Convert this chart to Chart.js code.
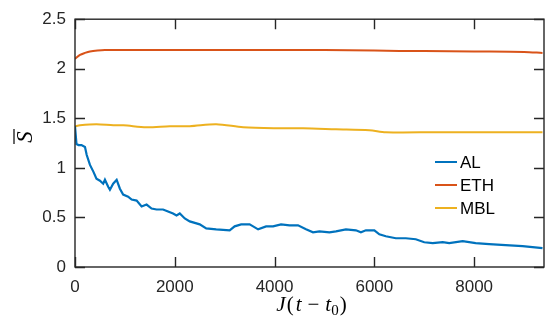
<!DOCTYPE html>
<html>
<head>
<meta charset="utf-8">
<script src="https://cdn.jsdelivr.net/npm/chart.js@4.4.1/dist/chart.umd.min.js"></script>
<style>
  html, body { margin: 0; padding: 0; background: #fff; }
  #wrap { width: 546px; height: 320px; position: relative; }
</style>
</head>
<body>
<div id="wrap"><canvas id="c"></canvas></div>
<script>
// values
const alTime = [0, 30, 70, 130, 200, 235, 300, 370, 430, 500, 565, 600, 665, 700, 765, 835, 900, 965, 1065, 1135, 1235, 1335, 1435, 1535, 1635, 1765, 1865, 1965, 2035, 2100, 2200, 2300, 2500, 2630, 2830, 3100, 3200, 3330, 3500, 3570, 3670, 3830, 3970, 4130, 4300, 4470, 4630, 4770, 4900, 5100, 5230, 5430, 5630, 5730, 5830, 6000, 6100, 6230, 6430, 6630, 6830, 7000, 7170, 7370, 7500, 7770, 8030, 8300, 8630, 8970, 9370]
const alValues = [1.42, 1.24, 1.23, 1.23, 1.21, 1.13, 1.03, 0.96, 0.89, 0.87, 0.84, 0.88, 0.81, 0.78, 0.84, 0.88, 0.79, 0.73, 0.71, 0.68, 0.67, 0.61, 0.63, 0.59, 0.58, 0.58, 0.56, 0.54, 0.52, 0.54, 0.49, 0.46, 0.43, 0.39, 0.38, 0.37, 0.41, 0.43, 0.43, 0.41, 0.38, 0.41, 0.41, 0.43, 0.42, 0.42, 0.38, 0.35, 0.36, 0.35, 0.36, 0.38, 0.37, 0.35, 0.37, 0.37, 0.33, 0.31, 0.29, 0.29, 0.28, 0.25, 0.24, 0.25, 0.24, 0.26, 0.24, 0.23, 0.22, 0.21, 0.19]

const ethTime = [0, 100, 200, 300, 450, 600, 1000, 2000, 3000, 4000, 5000, 6000, 6500, 7000, 8000, 9000, 9370]
const ethValues = [2.10, 2.14, 2.16, 2.175, 2.185, 2.19, 2.19, 2.19, 2.19, 2.19, 2.19, 2.185, 2.18, 2.18, 2.175, 2.17, 2.16]

const mblTime = [0, 100, 430, 770, 970, 1430, 1900, 2300, 2830, 3370, 4030, 4570, 5230, 5900, 6230, 7230, 9370]
const mblValues = [1.42, 1.43, 1.44, 1.43, 1.43, 1.41, 1.42, 1.42, 1.44, 1.41, 1.40, 1.40, 1.39, 1.38, 1.36, 1.36, 1.36]

const seriesNames = ['AL', 'ETH', 'MBL']
const seriesColors = ['#0072BD', '#D95319', '#EDB120']
const xTicks = [0, 2000, 4000, 6000, 8000]
const yTicks = [0, 0.5, 1, 1.5, 2, 2.5]

const axisColor = '#262626'
const sansFont = '"Liberation Sans", Arial, sans-serif'
const serifFont = '"Liberation Serif", "DejaVu Serif", serif'

const toPoints = (ts, vs) => ts.map((t, i) => ({ x: t, y: vs[i] }))

// box, inward ticks, legend and axis titles, matlab style
const matlabAxes = {
  id: 'matlabAxes',
  afterDatasetsDraw(chart) {
    const { ctx, chartArea: a, scales: { x, y } } = chart
    ctx.save()
    ctx.strokeStyle = axisColor
    ctx.lineWidth = 1.4
    ctx.strokeRect(a.left, a.top, a.right - a.left, a.bottom - a.top)
    ctx.beginPath()
    xTicks.forEach(v => {
      const px = Math.round(x.getPixelForValue(v)) + 0.5
      ctx.moveTo(px, a.bottom); ctx.lineTo(px, a.bottom - 10)
      ctx.moveTo(px, a.top); ctx.lineTo(px, a.top + 10)
    })
    yTicks.forEach(v => {
      const py = Math.round(y.getPixelForValue(v)) + 0.5
      ctx.moveTo(a.left, py); ctx.lineTo(a.left + 10, py)
      ctx.moveTo(a.right, py); ctx.lineTo(a.right - 10, py)
    })
    ctx.stroke()

    // legend
    ctx.font = '17px ' + sansFont
    ctx.textBaseline = 'middle'
    ctx.fillStyle = '#000'
    chart.data.datasets.forEach((ds, i) => {
      const ly = 162 + i * 23
      ctx.strokeStyle = ds.borderColor
      ctx.lineWidth = 2
      ctx.beginPath()
      ctx.moveTo(435, ly); ctx.lineTo(457, ly)
      ctx.stroke()
      ctx.fillText(ds.label, 460, ly + 1)
    })

    // y title: S with overbar, rotated
    ctx.save()
    ctx.translate(32, 137)
    ctx.rotate(-Math.PI / 2)
    ctx.font = 'italic 23px ' + serifFont
    ctx.textAlign = 'center'
    ctx.textBaseline = 'alphabetic'
    ctx.fillText('S', 0, 0)
    ctx.strokeStyle = '#000'
    ctx.lineWidth = 1.2
    ctx.beginPath()
    ctx.moveTo(-7, -18); ctx.lineTo(8, -18)
    ctx.stroke()
    ctx.restore()

    // x title: J(t - t0)
    const parts = [
      ['J', 'italic 21px', 0, 1],
      ['(', '21px', 0, 2],
      ['t', 'italic 21px', 0, 6],
      ['\u2212', '21px', 0, 6],
      ['t', 'italic 21px', 0, 0],
      ['0', '15px', 4, 1],
      [')', '21px', 0, 0]
    ]
    let total = 0
    parts.forEach(p => { ctx.font = p[1] + ' ' + serifFont; total += ctx.measureText(p[0]).width + p[3] })
    let cx = (a.left + a.right) / 2 - total / 2 + 2
    ctx.textAlign = 'left'
    ctx.textBaseline = 'alphabetic'
    parts.forEach(p => {
      ctx.font = p[1] + ' ' + serifFont
      ctx.fillText(p[0], cx, 311 + p[2])
      cx += ctx.measureText(p[0]).width + p[3]
    })
    ctx.restore()
  }
}

new Chart(document.getElementById('c'), {
  type: 'line',
  data: {
    datasets: [
      { label: seriesNames[0], data: toPoints(alTime, alValues), borderColor: seriesColors[0], borderWidth: 2.2, pointRadius: 0, tension: 0 },
      { label: seriesNames[1], data: toPoints(ethTime, ethValues), borderColor: seriesColors[1], borderWidth: 2, pointRadius: 0, tension: 0.3 },
      { label: seriesNames[2], data: toPoints(mblTime, mblValues), borderColor: seriesColors[2], borderWidth: 2, pointRadius: 0, tension: 0.3 }
    ]
  },
  options: {
    responsive: true,
    maintainAspectRatio: false,
    animation: false,
    layout: { padding: { top: 16, right: 2, left: 0, bottom: 0 } },
    plugins: { legend: { display: false }, tooltip: { enabled: false } },
    scales: {
      x: {
        type: 'linear',
        min: 0,
        max: 9400,
        grid: { display: false, drawTicks: false },
        border: { display: false },
        afterFit: s => { s.height = 53 },
        afterBuildTicks: s => { s.ticks = xTicks.map(v => ({ value: v })) },
        ticks: {
          padding: 10,
          color: axisColor,
          font: { size: 17, family: sansFont },
          callback: v => String(v)
        }
      },
      y: {
        min: 0,
        max: 2.5,
        grid: { display: false, drawTicks: false },
        border: { display: false },
        afterFit: s => { s.width = 75 },
        afterBuildTicks: s => { s.ticks = yTicks.map(v => ({ value: v })) },
        ticks: {
          padding: 9,
          color: axisColor,
          font: { size: 17, family: sansFont },
          callback: v => String(v)
        }
      }
    }
  },
  plugins: [matlabAxes]
})
</script>
</body>
</html>
